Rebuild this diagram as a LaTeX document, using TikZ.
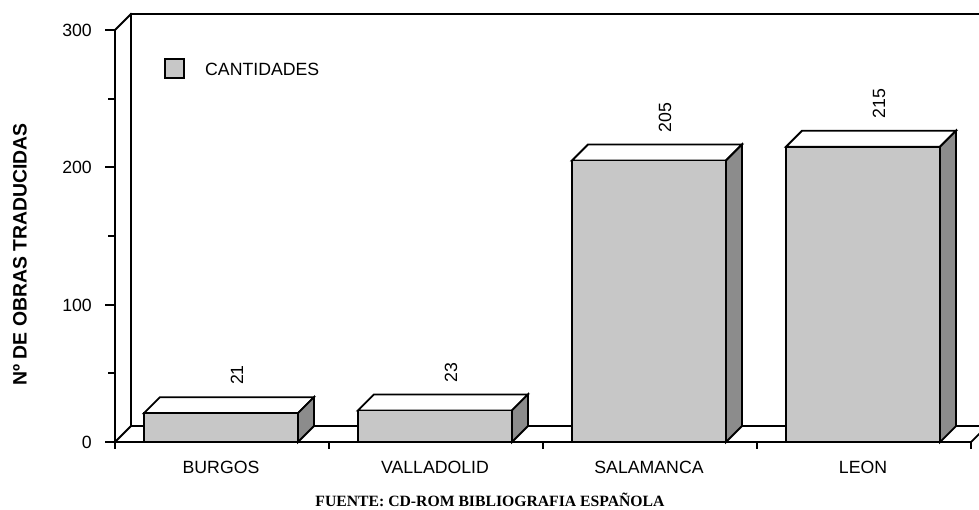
\documentclass[tikz,border=0pt]{standalone}
\usepackage{fontspec}
\setmainfont{Liberation Sans}
\newfontfamily\serifbold{Liberation Serif}
\definecolor{frontc}{gray}{0.78}
\definecolor{sidec}{gray}{0.55}
\tikzset{
  axisline/.style={line width=1.8pt, line join=miter, line cap=rect},
  barline/.style={line width=1.8pt, line join=miter},
  lbl/.style={inner sep=0pt, font=\fontsize{17.7}{20}\selectfont},
}
\newcommand\drawbar[4]{% #1 name, #2 left x, #3 value, #4 label
  \pgfmathsetmacro\yt{442-#3*1.3733}
  \filldraw[barline, fill=white] (#2,\yt) -- (#2+16,\yt-16) -- (#2+170,\yt-16) -- (#2+154,\yt) -- cycle;
  \filldraw[barline, fill=sidec] (#2+154,442) -- (#2+154,\yt) -- (#2+170,\yt-16) -- (#2+170,426) -- cycle;
  \filldraw[barline, fill=frontc] (#2,442) rectangle (#2+154,\yt);
  \node[lbl, rotate=90, anchor=west] (#1) at (#2+93,\yt-28) {#4};
}
\begin{document}
\begin{tikzpicture}[x=1pt,y=-1pt]
\useasboundingbox (0,0) rectangle (979,509);
% back wall and floor
\draw[axisline] (131,426) -- (131,14) -- (985,14);
\draw[axisline] (131,426) -- (985,426);
\draw[axisline] (115,442) -- (131,426);
\draw[axisline] (115,30) -- (131,14);
\draw[axisline] (971,442) -- (987,426);
% bars
\drawbar{v1}{144}{21}{21}
\drawbar{v2}{358}{23}{23}
\drawbar{v3}{572}{205}{205}
\drawbar{v4}{786}{215}{215}
% front axes
\draw[axisline] (115,30) -- (115,442) -- (971,442);
\foreach \v/\yy in {0/442,100/305,200/167,300/30}{
  \draw[axisline] (106,\yy) -- (115,\yy);
  \node[lbl, anchor=east] (t\v) at (92,\yy) {\v};
}
\foreach \yy in {99,236,373}{
  \draw[axisline] (109,\yy) -- (115,\yy);
}
\foreach \xx in {115,329,543,757,971}{
  \draw[axisline] (\xx,442) -- (\xx,448);
}
% category labels
\node[lbl] (c1) at (221,467.5) {BURGOS};
\node[lbl] (c2) at (435,467.5) {VALLADOLID};
\node[lbl] (c3) at (649,467.5) {SALAMANCA};
\node[lbl] (c4) at (863,467.5) {LEON};
% legend
\filldraw[line width=1.8pt, fill=frontc] (165,59) rectangle (184,78);
\node[lbl, anchor=west] (leg) at (205,69.5) {CANTIDADES};
% axis title
\node[inner sep=0pt, rotate=90, font=\fontsize{19.4}{22}\selectfont\bfseries] (yt) at (20,254.5) {Nº DE OBRAS TRADUCIDAS};
% footer
\node[inner sep=0pt, anchor=base, font=\serifbold\fontsize{15.7}{18}\selectfont\bfseries] (src) at (490,506) {FUENTE: CD-ROM BIBLIOGRAFIA ESPAÑOLA};
\end{tikzpicture}
\end{document}
